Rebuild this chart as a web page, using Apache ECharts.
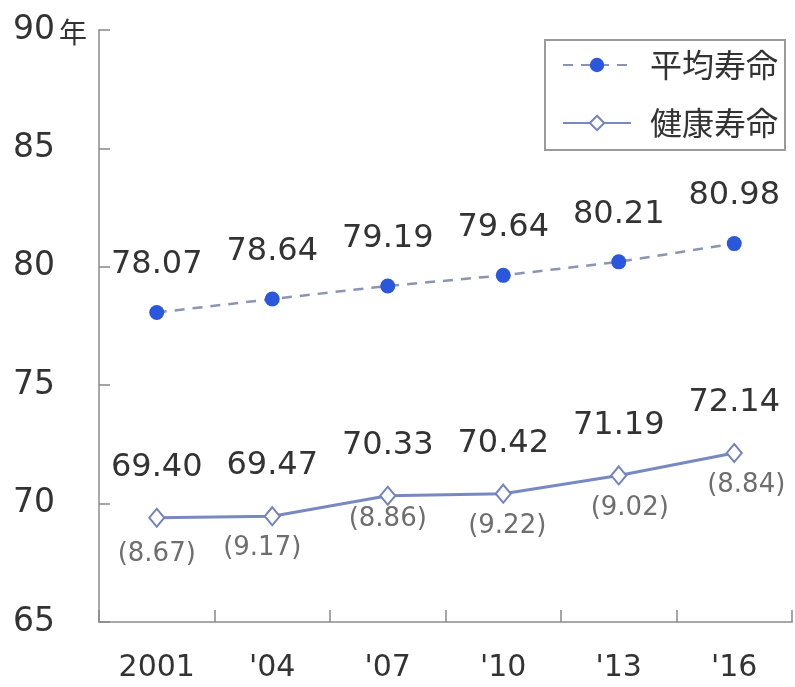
<!DOCTYPE html>
<html>
<head>
<meta charset="utf-8">
<script src="https://cdn.jsdelivr.net/npm/echarts@6/dist/echarts.min.js"></script>
<style>
  html, body { margin: 0; padding: 0; background: #fff; }
  #chart { width: 795px; height: 687px; }
</style>
</head>
<body>
<div id="chart"></div>
<script>
// Survey years on the category axis
const years = ['2001', "'04", "'07", "'10", "'13", "'16"];
// 平均寿命 (average life expectancy, years)
const lifeExpectancy = [78.07, 78.64, 79.19, 79.64, 80.21, 80.98];
// 健康寿命 (healthy life expectancy, years)
const healthyLife = [69.40, 69.47, 70.33, 70.42, 71.19, 72.14];
// Gap between the two, shown in parentheses under the healthy line
const gapYears = [8.67, 9.17, 8.86, 9.22, 9.02, 8.84];
// Y-axis scale
const yMin = 65, yMax = 90, yStep = 5;

// Small nudges for the parenthesised labels so they clear the line
const gapLabelShift = [[0, 4], [-10, 0], [0, -9], [4, 0], [11, 0], [12, 0]];

const FONT = '"DejaVu Sans", "Noto Sans CJK JP", sans-serif';
const CJK = '"Noto Sans CJK JP", sans-serif';
const TEXT = '#333333';
const AXIS = '#a8a8a8';

const chart = echarts.init(document.getElementById('chart'));

chart.setOption({
  animation: false,
  backgroundColor: '#ffffff',
  grid: { left: 99, right: 3, top: 30, bottom: 65, containLabel: false },
  legend: {
    orient: 'vertical',
    left: 545,
    top: 40,
    padding: [9, 7, 11, 17],
    itemGap: 26,
    itemWidth: 68,
    itemHeight: 18,
    borderColor: '#9a9a9a',
    borderWidth: 2,
    textStyle: { fontFamily: CJK, fontSize: 32, color: TEXT, padding: [0, 0, 0, 14] },
    data: ['平均寿命', '健康寿命']
  },
  xAxis: {
    type: 'category',
    data: years,
    boundaryGap: true,
    axisLine: { lineStyle: { color: AXIS, width: 2 } },
    axisTick: { show: true, inside: true, length: 12, alignWithLabel: false, lineStyle: { color: '#888', width: 1.5 } },
    axisLabel: { fontFamily: FONT, fontSize: 30, color: TEXT, margin: 31 },
    splitLine: { show: false }
  },
  yAxis: {
    type: 'value',
    min: yMin,
    max: yMax,
    interval: yStep,
    axisLine: { show: true, lineStyle: { color: AXIS, width: 2 } },
    axisTick: { show: true, inside: true, length: 11, lineStyle: { color: '#888', width: 1.5 } },
    splitLine: { show: false },
    axisLabel: {
      fontFamily: FONT,
      fontSize: 33,
      color: TEXT,
      align: 'left',
      margin: 86,
      formatter: v => (v === yMax ? v + '{u|年}' : String(v)),
      rich: { u: { fontFamily: CJK, fontSize: 28, color: TEXT, padding: [4, 0, 0, 4] } }
    }
  },
  series: [
    {
      name: '平均寿命',
      type: 'line',
      data: lifeExpectancy,
      symbol: 'circle',
      symbolSize: 15,
      itemStyle: { color: '#2b57dc' },
      lineStyle: { color: '#8c94b2', width: 2.5, type: [10, 8] },
      label: {
        show: true,
        position: 'top',
        distance: 24,
        fontFamily: FONT,
        fontSize: 32,
        color: TEXT,
        formatter: p => p.value.toFixed(2)
      },
      z: 3
    },
    {
      name: '健康寿命',
      type: 'line',
      data: healthyLife,
      symbol: 'diamond',
      symbolSize: [15, 18],
      itemStyle: { color: '#ffffff', borderColor: '#7283bd', borderWidth: 2 },
      lineStyle: { color: '#7889c2', width: 3 },
      label: {
        show: true,
        position: 'top',
        distance: 24,
        fontFamily: FONT,
        fontSize: 32,
        color: TEXT,
        formatter: p => p.value.toFixed(2)
      },
      z: 3
    },
    {
      // Carries only the parenthesised gap labels below the healthy line
      name: 'gap',
      type: 'scatter',
      data: healthyLife.map((v, i) => ({
        value: v,
        label: { offset: gapLabelShift[i] }
      })),
      symbol: 'circle',
      symbolSize: 1,
      silent: true,
      itemStyle: { color: 'rgba(0,0,0,0)' },
      label: {
        show: true,
        position: 'bottom',
        distance: 19,
        fontFamily: FONT,
        fontSize: 26,
        color: '#4a4a4a',
        formatter: p => '(' + gapYears[p.dataIndex].toFixed(2) + ')'
      },
      z: 2
    }
  ]
});
</script>
</body>
</html>
